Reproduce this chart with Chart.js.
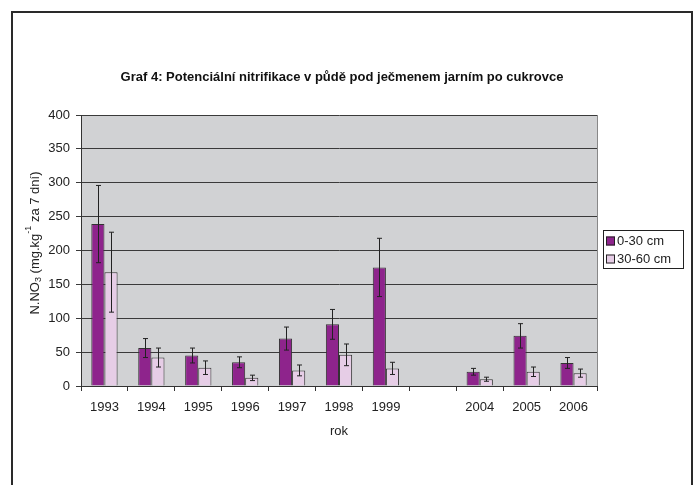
<!DOCTYPE html>
<html>
<head>
<meta charset="utf-8">
<script src="https://cdn.jsdelivr.net/npm/chart.js@4.4.1/dist/chart.umd.min.js"></script>
<style>
  html, body { margin: 0; padding: 0; background: #fff; }
  #wrap { width: 696px; height: 485px; }
</style>
</head>
<body>
<div id="wrap"><canvas id="nitriChart" width="696" height="485"></canvas></div>
<script>
// data
const years = ["1993", "1994", "1995", "1996", "1997", "1998", "1999", "", "2004", "2005", "2006"];
const depth0_30 = [239, 56, 45, 35, 70, 91, 175, null, 21, 74, 34];
const err0_30 = [57, 14, 11, 8, 17, 22, 43, null, 5, 18, 8];
const depth30_60 = [168, 42, 27, 12, 23, 46, 26, null, 10, 21, 19];
const err30_60 = [59, 14, 10, 4, 8, 16, 9, null, 3, 7, 6];
const seriesNames = ["0-30 cm", "30-60 cm"];
const seriesColors = ["#8E248C", "#E6CDE6"];
const errors = [err0_30, err30_60];

const FONT = "'Liberation Sans', Arial, sans-serif";

// grey plot background, outer frame, titles, legend
const backdrop = {
    id: "backdrop",
    beforeDraw(chart) {
        const ctx = chart.ctx, a = chart.chartArea;
        ctx.save();
        ctx.fillStyle = "#fff";
        ctx.fillRect(0, 0, chart.width, chart.height);
        ctx.fillStyle = "#D1D2D4";
        ctx.fillRect(a.left, a.top, a.right - a.left, a.bottom - a.top);
        ctx.strokeStyle = "#2a2a2a";
        ctx.lineWidth = 2;
        ctx.strokeRect(12, 12, 680, 500);
        ctx.fillStyle = "#111";
        ctx.font = "bold 13px " + FONT;
        ctx.textAlign = "center";
        ctx.textBaseline = "middle";
        ctx.fillText("Graf 4: Potenciální nitrifikace v půdě pod ječmenem jarním po cukrovce", 342, 77);
        ctx.restore();
    },
    afterDraw(chart) {
        const ctx = chart.ctx, a = chart.chartArea;
        ctx.save();
        // right border of plot
        ctx.strokeStyle = "#888";
        ctx.lineWidth = 1;
        ctx.beginPath();
        ctx.moveTo(a.right + 0.5, a.top);
        ctx.lineTo(a.right + 0.5, a.bottom);
        ctx.stroke();

        // x axis title
        ctx.fillStyle = "#222";
        ctx.font = "13px " + FONT;
        ctx.textAlign = "center";
        ctx.textBaseline = "middle";
        ctx.fillText("rok", (a.left + a.right) / 2, 431);

        // y axis title with sub/superscript
        ctx.translate(35, 243);
        ctx.rotate(-Math.PI / 2);
        const parts = [
            ["N.NO", 0, 13], ["3", 4, 9], [" (mg.kg", 0, 13], ["-1", -6, 9], [" za 7 dní)", 0, 13]
        ];
        let total = 0;
        parts.forEach(p => { ctx.font = p[2] + "px " + FONT; total += ctx.measureText(p[0]).width; });
        let x = -total / 2;
        ctx.textAlign = "left";
        parts.forEach(p => {
            ctx.font = p[2] + "px " + FONT;
            ctx.fillText(p[0], x, p[1]);
            x += ctx.measureText(p[0]).width;
        });
        ctx.restore();

        // legend
        ctx.save();
        ctx.fillStyle = "#fff";
        ctx.fillRect(603, 230, 80, 38);
        ctx.strokeStyle = "#222";
        ctx.lineWidth = 1;
        ctx.strokeRect(603.5, 230.5, 80, 38);
        ctx.font = "13px " + FONT;
        ctx.textBaseline = "middle";
        seriesNames.forEach((n, i) => {
            const yy = 241 + i * 18;
            ctx.fillStyle = seriesColors[i];
            ctx.fillRect(606, yy - 4.5, 9, 9);
            ctx.strokeRect(606.5, yy - 4, 8, 8);
            ctx.fillStyle = "#222";
            ctx.fillText(n, 617, yy);
        });
        ctx.restore();
    }
};

// error bars from the arrays above
const errorBars = {
    id: "errorBars",
    afterDatasetsDraw(chart) {
        const ctx = chart.ctx, y = chart.scales.y;
        ctx.save();
        ctx.strokeStyle = "#222";
        ctx.lineWidth = 1;
        chart.data.datasets.forEach((ds, di) => {
            const meta = chart.getDatasetMeta(di);
            meta.data.forEach((bar, i) => {
                const v = ds.data[i], e = errors[di][i];
                if (v == null || e == null) return;
                const x = Math.round(bar.x) + 0.5;
                const t = y.getPixelForValue(v + e), b = y.getPixelForValue(v - e);
                ctx.beginPath();
                ctx.moveTo(x, t); ctx.lineTo(x, b);
                ctx.moveTo(x - 2.5, t); ctx.lineTo(x + 2.5, t);
                ctx.moveTo(x - 2.5, b); ctx.lineTo(x + 2.5, b);
                ctx.stroke();
            });
        });
        ctx.restore();
    }
};

const nitriChart = new Chart("nitriChart", {
    type: "bar",
    data: {
        labels: years,
        datasets: [
            { label: seriesNames[0], data: depth0_30, backgroundColor: seriesColors[0], borderColor: "#333", borderWidth: 1, categoryPercentage: 0.56, barPercentage: 1 },
            { label: seriesNames[1], data: depth30_60, backgroundColor: seriesColors[1], borderColor: "#333", borderWidth: 1, categoryPercentage: 0.56, barPercentage: 1 }
        ]
    },
    options: {
        responsive: false,
        animation: false,
        devicePixelRatio: 1,
        layout: { padding: { top: 115, right: 99, bottom: 0, left: 0 } },
        plugins: { legend: { display: false }, title: { display: false }, tooltip: { enabled: false } },
        scales: {
            x: {
                grid: { display: true, drawOnChartArea: false, drawTicks: true, tickLength: 5, color: "#333", offset: true },
                border: { color: "#333" },
                ticks: { color: "#222", font: { family: FONT, size: 13 }, padding: 9, maxRotation: 0 },
                afterFit(s) { s.height = 99; }
            },
            y: {
                min: 0, max: 400,
                ticks: { stepSize: 50, color: "#222", font: { family: FONT, size: 13 }, padding: 6 },
                grid: { color: "#3a3a3a", tickLength: 5 },
                border: { color: "#333" },
                afterFit(s) { s.width = 81; }
            }
        }
    },
    plugins: [backdrop, errorBars]
});
console.log("Chart is " + nitriChart);
</script>
</body>
</html>
